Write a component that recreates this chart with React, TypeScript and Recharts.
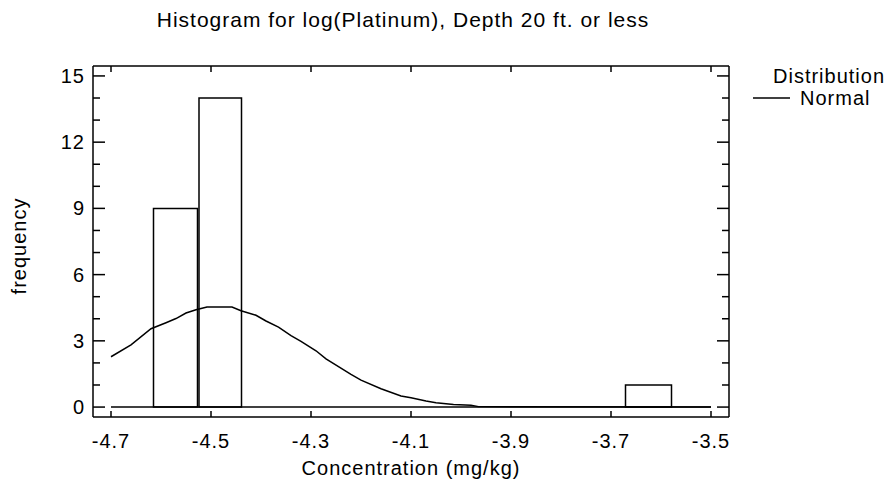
import React from 'react';
import { ComposedChart, Line, XAxis, YAxis, ReferenceArea, ReferenceLine } from 'recharts';

// axis ticks
const xTicks = [-4.7, -4.5, -4.3, -4.1, -3.9, -3.7, -3.5];
const yTicks = [0, 1, 2, 3, 4, 5, 6, 7, 8, 9, 10, 11, 12, 13, 14, 15];
const yLabelTicks = [0, 3, 6, 9, 12, 15];

// histogram bins (left edge, right edge, count)
const binLeft = [-4.615, -4.524, -3.671];
const binRight = [-4.527, -4.439, -3.579];
const binCount = [9, 14, 1];

// fitted normal curve
const curveX = [
  -4.7, -4.66, -4.62, -4.59, -4.57, -4.55, -4.53, -4.508, -4.458, -4.44, -4.41, -4.39, -4.365, -4.34,
  -4.32, -4.29, -4.27, -4.22, -4.2, -4.16, -4.12, -4.1, -4.07, -4.05, -4.015, -3.98, -3.965, -3.5,
];
const curveY = [
  2.28, 2.82, 3.55, 3.82, 4.01, 4.26, 4.41, 4.53, 4.53, 4.36, 4.16, 3.9, 3.62, 3.24,
  2.98, 2.55, 2.18, 1.48, 1.22, 0.83, 0.5, 0.42, 0.27, 0.2, 0.12, 0.08, 0.02, 0,
];

const xDomain = [-4.736, -3.464];
const yDomain = [-0.45, 15.45];

const FONT = "'Liberation Sans', Arial, sans-serif";
const INK = '#000';
const FS = 20;
const LS = 1;

const curveData = curveX.map((x, i) => ({ x, y: curveY[i] }));

function LeftTick({ x, y, payload }: any) {
  const major = yLabelTicks.includes(payload.value);
  return (
    <g>
      <line x1={x} x2={x + (major ? 12 : 7)} y1={y} y2={y} stroke={INK} strokeWidth={1.5} />
      {major && (
        <text x={x - 8} y={y + 7} textAnchor="end" fontSize={FS} letterSpacing={LS} fontFamily={FONT} fill={INK}>
          {payload.value}
        </text>
      )}
    </g>
  );
}

function RightTick({ x, y, payload }: any) {
  const major = yLabelTicks.includes(payload.value);
  return <line x1={x} x2={x - (major ? 12 : 7)} y1={y} y2={y} stroke={INK} strokeWidth={1.5} />;
}

function BottomTick({ x, y, payload }: any) {
  return (
    <g>
      <line x1={x} x2={x} y1={y} y2={y - 6} stroke={INK} strokeWidth={1.5} />
      <text x={x} y={y + 31} textAnchor="middle" fontSize={FS} letterSpacing={LS} fontFamily={FONT} fill={INK}>
        {payload.value.toFixed(1)}
      </text>
    </g>
  );
}

function TopTick({ x, y }: any) {
  return <line x1={x} x2={x} y1={y} y2={y + 6} stroke={INK} strokeWidth={1.5} />;
}

export default function App() {
  return (
    <div style={{ position: 'absolute', left: 0, top: 0, width: 891, height: 489, background: '#fff' }}>
      <ComposedChart width={891} height={489} data={curveData} margin={{ top: 65, right: 161, bottom: 42, left: 53 }}>
        <XAxis
          type="number"
          dataKey="x"
          domain={xDomain}
          ticks={xTicks}
          allowDataOverflow
          height={30}
          tickSize={0}
          tickMargin={0}
          tickLine={false}
          axisLine={{ stroke: INK, strokeWidth: 1.5 }}
          tick={<BottomTick />}
          interval={0}
        />
        <XAxis
          xAxisId="top"
          orientation="top"
          type="number"
          dataKey="x"
          domain={xDomain}
          ticks={xTicks}
          allowDataOverflow
          height={1}
          tickSize={0}
          tickMargin={0}
          tickLine={false}
          axisLine={{ stroke: INK, strokeWidth: 1.5 }}
          tick={<TopTick />}
          interval={0}
        />
        <YAxis
          type="number"
          domain={yDomain}
          ticks={yTicks}
          allowDataOverflow
          width={40}
          tickSize={0}
          tickMargin={0}
          tickLine={false}
          axisLine={{ stroke: INK, strokeWidth: 1.5 }}
          tick={<LeftTick />}
          interval={0}
        />
        <YAxis
          yAxisId="right"
          orientation="right"
          type="number"
          domain={yDomain}
          ticks={yTicks}
          allowDataOverflow
          width={1}
          tickSize={0}
          tickMargin={0}
          tickLine={false}
          axisLine={{ stroke: INK, strokeWidth: 1.5 }}
          tick={<RightTick />}
          interval={0}
        />
        {binCount.map((c, i) => (
          <ReferenceArea
            key={i}
            x1={binLeft[i]}
            x2={binRight[i]}
            y1={0}
            y2={c}
            fill="none"
            fillOpacity={0}
            stroke={INK}
            strokeWidth={1.5}
            strokeOpacity={1}
          />
        ))}
        <ReferenceLine
          segment={[
            { x: -4.7, y: 0 },
            { x: -3.5, y: 0 },
          ]}
          stroke={INK}
          strokeWidth={1.5}
        />
        <Line
          type="linear"
          dataKey="y"
          stroke={INK}
          strokeWidth={1.5}
          dot={false}
          isAnimationActive={false}
        />
        {/* invisible copy so the top / right frame axes have a series */}
        <Line
          xAxisId="top"
          yAxisId="right"
          type="linear"
          dataKey="y"
          stroke="none"
          dot={false}
          activeDot={false}
          isAnimationActive={false}
        />
      </ComposedChart>

      <svg
        width={891}
        height={489}
        style={{ position: 'absolute', left: 0, top: 0, pointerEvents: 'none' }}
        fontFamily={FONT}
        fill={INK}
        letterSpacing={LS}
      >
        <text x={403} y={27} textAnchor="middle" fontSize={21}>
          Histogram for log(Platinum), Depth 20 ft. or less
        </text>
        <text x={411} y={475} textAnchor="middle" fontSize={FS}>
          Concentration (mg/kg)
        </text>
        <text x={26} y={246} textAnchor="middle" fontSize={FS} transform="rotate(-90 26 246)">
          frequency
        </text>
        <text x={773} y={83} fontSize={FS}>
          Distribution
        </text>
        <line x1={753} x2={790} y1={98} y2={98} stroke={INK} strokeWidth={1.5} />
        <text x={800} y={105} fontSize={FS}>
          Normal
        </text>
      </svg>
    </div>
  );
}
